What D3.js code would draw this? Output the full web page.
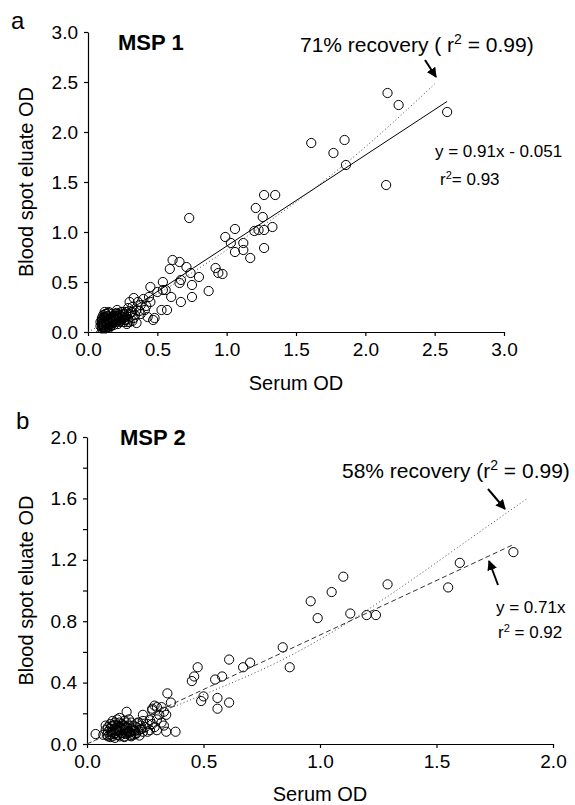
<!DOCTYPE html>
<html><head><meta charset="utf-8">
<script src="https://cdn.jsdelivr.net/npm/d3@7"></script>
<style>
body{margin:0;background:#fff;}
text{font-family:"Liberation Sans",Arial,Helvetica,sans-serif;fill:#000;}
</style></head>
<body><svg id="c" width="575" height="805"></svg>
<script>
// ---------- DATA ----------
const xTicksA = [0, 0.5, 1.0, 1.5, 2.0, 2.5, 3.0];
const yTicksA = [0, 0.5, 1.0, 1.5, 2.0, 2.5, 3.0];
const xTicksB = [0, 0.5, 1.0, 1.5, 2.0];
const yTicksB = [0, 0.2, 0.4, 0.6, 0.8, 1.0, 1.2, 1.4, 1.6, 1.8, 2.0];
const yLabelsB = [0, 0.4, 0.8, 1.2, 1.6, 2.0];

// MSP 1 (panel a): serum OD vs blood spot eluate OD
const serumA = [2.16,2.24,2.59,1.61,1.77,1.85,1.86,2.15,1.27,1.35,1.21,1.26,1.20,1.23,1.27,1.33,1.06,0.99,1.03,1.12,1.27,0.73,1.06,1.12,1.17,
0.61,0.66,0.71,0.74,0.59,0.80,0.92,0.94,0.97,0.87,0.75,0.75,0.67,0.66,0.54,0.54,0.56,0.60,0.67,0.45,0.53,0.57,0.47,0.48,0.45,0.44,0.40,0.33,0.41,0.32,0.34,0.32,0.27,0.31,0.38,0.36,0.30,0.29,0.35,0.38,0.43,0.42,0.50,0.25,0.22,0.23,
0.10,0.10,0.10,0.10,0.11,0.11,0.11,0.11,0.11,0.12,0.12,0.12,0.12,0.12,0.13,0.13,0.13,0.13,0.13,0.14,0.14,0.14,0.14,0.15,0.15,0.15,0.15,0.16,0.16,0.16,0.17,0.17,0.17,0.18,0.18,0.18,0.19,0.19,0.20,0.20,0.20,0.21,0.21,0.21,0.22,0.23,0.23,0.24,0.25,0.26,0.26,0.27,0.28,0.28,0.29,0.30,0.30,0.09,0.09,0.24,
0.10,0.105,0.115,0.125,0.135,0.145,0.155,0.165,0.10,0.115,0.125,0.135,0.145,0.155,0.175,0.185,0.195,0.205,0.215,0.225,0.235,0.245,0.255,0.265,0.275,0.285,0.32,0.33,0.35,0.37];
const eluateA = [2.39,2.27,2.20,1.89,1.79,1.92,1.67,1.47,1.37,1.37,1.24,1.15,1.01,1.02,1.02,1.05,1.03,0.95,0.89,0.89,0.84,1.14,0.80,0.82,0.74,
0.72,0.70,0.65,0.59,0.63,0.55,0.64,0.59,0.58,0.41,0.47,0.35,0.52,0.49,0.50,0.42,0.42,0.35,0.30,0.45,0.22,0.22,0.12,0.14,0.30,0.35,0.33,0.34,0.22,0.25,0.17,0.11,0.15,0.20,0.27,0.30,0.30,0.24,0.22,0.18,0.15,0.26,0.40,0.20,0.18,0.12,
0.05,0.08,0.11,0.14,0.04,0.07,0.10,0.13,0.17,0.05,0.09,0.12,0.15,0.20,0.06,0.08,0.11,0.14,0.18,0.05,0.09,0.12,0.16,0.07,0.10,0.13,0.20,0.08,0.12,0.15,0.10,0.14,0.18,0.09,0.13,0.16,0.11,0.15,0.10,0.13,0.18,0.12,0.16,0.22,0.14,0.10,0.17,0.13,0.15,0.10,0.18,0.12,0.16,0.08,0.13,0.10,0.18,0.06,0.10,0.20,
0.035,0.065,0.045,0.035,0.04,0.065,0.045,0.06,0.12,0.15,0.18,0.10,0.19,0.07,0.12,0.07,0.14,0.19,0.08,0.15,0.11,0.17,0.14,0.12,0.20,0.10,0.20,0.14,0.09,0.21];

// MSP 2 (panel b)
const serumB = [1.83,1.60,1.55,1.29,1.10,1.05,0.96,0.99,1.13,1.20,1.24,0.84,0.87,0.70,0.67,0.61,0.58,0.55,0.475,0.46,0.45,0.50,0.49,0.56,0.56,0.61,0.345,0.36,0.29,0.30,0.32,0.28,0.34,0.33,0.24,0.17,0.38,0.34,0.30,0.26,0.037,0.085,0.30,0.32,0.28,0.21,0.33,0.29,0.27,0.23,
0.07,0.08,0.09,0.09,0.09,0.10,0.10,0.10,0.11,0.11,0.11,0.12,0.12,0.12,0.12,0.13,0.13,0.13,0.13,0.14,0.14,0.14,0.14,0.15,0.15,0.15,0.16,0.16,0.16,0.16,0.17,0.17,0.17,0.18,0.18,0.19,0.19,0.19,0.20,0.20,0.21,0.21,0.22,0.22,0.23,0.24,0.24,0.25,0.26,0.27,0.11,0.14,0.18,0.20,0.08,
0.105,0.115,0.125,0.135,0.145,0.155,0.165,0.175,0.185,0.195,0.105,0.125,0.145,0.165,0.185,0.205,0.215,0.225,0.235,0.12,0.14,0.16,0.18,0.10,0.13,0.15,0.17,0.19,0.28,0.31];
const eluateB = [1.25,1.18,1.02,1.04,1.09,0.99,0.93,0.82,0.85,0.84,0.84,0.63,0.50,0.53,0.50,0.55,0.44,0.42,0.50,0.44,0.41,0.31,0.28,0.30,0.23,0.27,0.33,0.27,0.25,0.24,0.24,0.23,0.19,0.21,0.19,0.21,0.08,0.08,0.09,0.08,0.065,0.06,0.16,0.14,0.13,0.065,0.12,0.11,0.155,0.095,
0.06,0.09,0.05,0.08,0.11,0.06,0.10,0.13,0.05,0.08,0.12,0.04,0.07,0.10,0.14,0.06,0.09,0.12,0.16,0.05,0.08,0.11,0.14,0.07,0.10,0.13,0.05,0.09,0.12,0.15,0.07,0.11,0.14,0.08,0.12,0.06,0.10,0.14,0.09,0.12,0.07,0.11,0.14,0.09,0.12,0.08,0.15,0.11,0.13,0.09,0.15,0.17,0.16,0.06,0.12,
0.075,0.065,0.085,0.06,0.07,0.095,0.065,0.085,0.055,0.095,0.115,0.105,0.095,0.105,0.075,0.085,0.135,0.055,0.10,0.125,0.115,0.045,0.075,0.045,0.09,0.115,0.095,0.05,0.22,0.19];

// fitted lines
const fitA = {slope: 0.91, intercept: -0.051, x0: 0.06, x1: 2.59};
const recoveryAx = [0, 0.5, 1.0, 1.5, 2.0, 2.5];
const recoveryAy = [0, 0.38, 0.82, 1.30, 1.85, 2.48];
const fitB = {slope: 0.71, intercept: 0, x0: 0, x1: 1.83};
const recoveryBx = [0, 0.4, 0.8, 1.2, 1.6, 1.89];
const recoveryBy = [0, 0.26, 0.52, 0.87, 1.29, 1.60];

// ---------- DRAW ----------
const svg = d3.select("#c");
const defs = svg.append("defs");
defs.append("marker").attr("id","ah").attr("viewBox","0 0 10 10").attr("refX",9).attr("refY",5)
  .attr("markerWidth",5).attr("markerHeight",5).attr("orient","auto")
  .append("path").attr("d","M0,0 L10,5 L0,10 z").attr("fill","#000");

function panel(cfg){
  const g = svg.append("g");
  const x = d3.scaleLinear().domain(cfg.xd).range(cfg.xr);
  const y = d3.scaleLinear().domain(cfg.yd).range(cfg.yr);
  const fmt = d3.format(".1f");
  const ya = d3.axisLeft(y).tickValues(cfg.yTicks).tickSize(4).tickSizeOuter(0).tickPadding(6)
    .tickFormat(d => cfg.yLabels.some(v => Math.abs(v-d)<1e-9) ? fmt(d) : "");
  const xa = d3.axisBottom(x).tickValues(cfg.xTicks).tickSize(4).tickSizeOuter(0).tickPadding(7).tickFormat(fmt);
  const gy = g.append("g").attr("transform",`translate(${cfg.xr[0]},0)`).call(ya);
  const gx = g.append("g").attr("transform",`translate(0,${cfg.yr[0]})`).call(xa);
  [gx,gy].forEach(a=>{
    a.selectAll("text").attr("font-size",19).attr("font-family",'"Liberation Sans",Arial,sans-serif');
    a.select(".domain").attr("stroke","#000").attr("stroke-width",1.2);
    a.selectAll(".tick line").attr("stroke","#000").attr("stroke-width",1.2);
  });
  g.append("g").selectAll("circle").data(cfg.xs.map((v,i)=>[v,cfg.ys[i]])).join("circle")
    .attr("cx",d=>x(d[0])).attr("cy",d=>y(d[1])).attr("r",4.6)
    .attr("fill","none").attr("stroke","#000").attr("stroke-width",1);
  const f = cfg.fit;
  g.append("line").attr("x1",x(f.x0)).attr("y1",y(f.slope*f.x0+f.intercept))
    .attr("x2",x(f.x1)).attr("y2",y(f.slope*f.x1+f.intercept))
    .attr("stroke",cfg.fitColor).attr("stroke-width",1).attr("stroke-dasharray",cfg.fitDash);
  const line = d3.line().x(d=>x(d[0])).y(d=>y(d[1])).curve(d3.curveNatural);
  g.append("path").attr("d",line(cfg.rx.map((v,i)=>[v,cfg.ry[i]])))
    .attr("fill","none").attr("stroke","#444").attr("stroke-width",1).attr("stroke-dasharray","1,2.5");
  g.append("text").attr("x",(cfg.xr[0]+cfg.xr[1])/2).attr("y",cfg.xTitleY).attr("text-anchor","middle")
    .attr("font-size",20).text("Serum OD");
  g.append("text").attr("transform",`translate(33,${(cfg.yr[0]+cfg.yr[1])/2}) rotate(-90)`)
    .attr("text-anchor","middle").attr("font-size",20).text("Blood spot eluate OD");
  return g;
}

panel({xd:[0,3],xr:[88,504],yd:[0,3],yr:[332,32],xTicks:xTicksA,yTicks:yTicksA,yLabels:yTicksA,
  xs:serumA,ys:eluateA,fit:fitA,fitColor:"#000",fitDash:null,rx:recoveryAx,ry:recoveryAy,xTitleY:390});
panel({xd:[0,2],xr:[87,553],yd:[0,2],yr:[744,437],xTicks:xTicksB,yTicks:yTicksB,yLabels:yLabelsB,
  xs:serumB,ys:eluateB,fit:fitB,fitColor:"#333",fitDash:"5,3",rx:recoveryBx,ry:recoveryBy,xTitleY:801});

svg.append("text").attr("x",11).attr("y",29).attr("font-size",24).text("a");
svg.append("text").attr("x",16).attr("y",429).attr("font-size",24).text("b");
svg.append("text").attr("x",118).attr("y",50).attr("font-size",22).attr("font-weight","bold").text("MSP 1");
svg.append("text").attr("x",120).attr("y",445).attr("font-size",22).attr("font-weight","bold").text("MSP 2");

function richText(x,y,size,pre,sup,post){
  const t = svg.append("text").attr("x",x).attr("y",y).attr("font-size",size);
  t.append("tspan").text(pre);
  t.append("tspan").attr("font-size",Math.round(size*0.65)).attr("dy",-size*0.38).text(sup);
  t.append("tspan").attr("dy",size*0.38).text(post);
}
richText(300,52,21,"71% recovery ( r","2"," = 0.99)");
svg.append("text").attr("x",435).attr("y",157).attr("font-size",17).text("y = 0.91x - 0.051");
richText(440,185,17,"r","2","= 0.93");
richText(342,478,21,"58% recovery (r","2"," = 0.99)");
svg.append("text").attr("x",496).attr("y",613).attr("font-size",17).text("y = 0.71x");
richText(498,638,17,"r","2"," = 0.92");

function arrow(x1,y1,x2,y2){
  svg.append("line").attr("x1",x1).attr("y1",y1).attr("x2",x2).attr("y2",y2)
    .attr("stroke","#000").attr("stroke-width",2).attr("marker-end","url(#ah)");
}
arrow(425,60,436,77);
arrow(488,489,505,509);
arrow(498,585,489,561);
</script></body></html>
